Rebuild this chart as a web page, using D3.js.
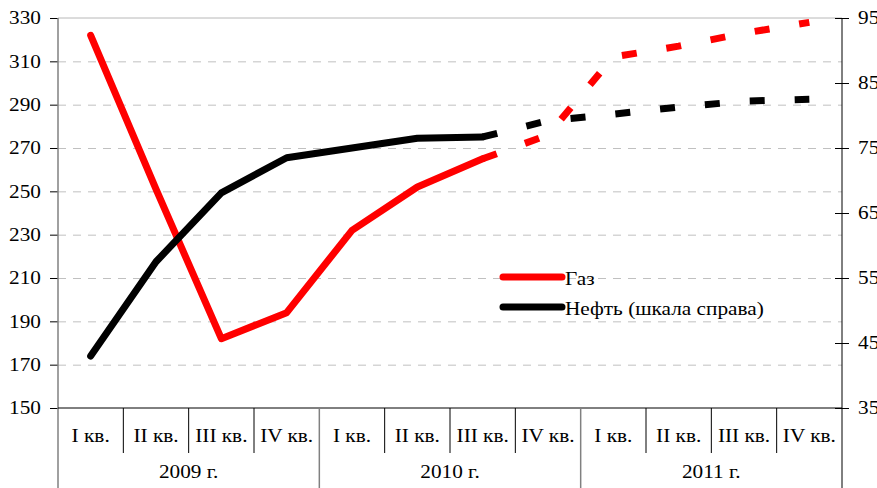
<!DOCTYPE html>
<html>
<head>
<meta charset="utf-8">
<script src="https://cdn.jsdelivr.net/npm/d3@7"></script>
<style>
    body { margin: 0; background: #fff; }
</style>
</head>
<body>
<div id="chart"></div>
<script>
// Quarter / year categories
var quarters = ["I кв.", "II кв.", "III кв.", "IV кв."];
var years = ["2009 г.", "2010 г.", "2011 г."];

// Gas (left scale) and oil (right scale), one value per quarter 2009-2011
var gas = [322, 251, 182, 194, 232, 252, 265, 276, 312, 317, 323, 328];
var oil = [43, 57.5, 68.1, 73.5, 75, 76.5, 76.7, 79.2, 80.2, 81.3, 82.2, 82.5];
var forecast_from = 6; // from 2010 III кв. on the lines are dashed

var left_ticks = [150, 170, 190, 210, 230, 250, 270, 290, 310, 330];
var right_ticks = [35, 45, 55, 65, 75, 85, 95];

var legend_names = ["Газ", "Нефть (шкала справа)"];

var font = '"Liberation Serif", "Times New Roman", serif';
var font_size = 18.5;
var stretch = 1.15; // text in the original is a bit wider than tall

var width = 877, height = 488;
var margin = {top: 18, right: 35, bottom: 80, left: 58};
var plot_w = width - margin.left - margin.right;
var plot_h = height - margin.top - margin.bottom;

var svg = d3.select("#chart")
    .append("svg")
    .attr("width", width)
    .attr("height", height);

var g = svg.append("g")
    .attr("transform", "translate(" + margin.left + "," + margin.top + ")");

// text with horizontal stretch
function label(parent, x, y, txt, anchor, dy) {
    return parent.append("text")
        .attr("transform", "translate(" + x + "," + y + ") scale(" + stretch + ",1)")
        .attr("text-anchor", anchor || "start")
        .attr("dy", dy || 0)
        .style("font-family", font)
        .style("font-size", font_size + "px")
        .style("fill", "#000")
        .text(txt);
}

var cats = [];
years.forEach(function(y) {
    quarters.forEach(function(q) { cats.push(y + "|" + q); });
});

var x = d3.scaleBand().domain(cats).range([0, plot_w]);
var yl = d3.scaleLinear().domain([150, 330]).range([plot_h, 0]);
var yr = d3.scaleLinear().domain([35, 95]).range([plot_h, 0]);

function cx(i) { return x(cats[i]) + x.bandwidth() / 2; }

// dashed grid
g.append("g")
    .call(d3.axisLeft(yl).tickValues(left_ticks.slice(1, -1)).tickSize(-plot_w).tickFormat(""))
    .call(function(s) {
        s.select(".domain").remove();
        s.selectAll("line").attr("stroke", "#c0c0c0").attr("stroke-dasharray", "8,7");
    });

// top border of plot area
g.append("line")
    .attr("x1", 0).attr("x2", plot_w)
    .attr("y1", yl(330)).attr("y2", yl(330))
    .attr("stroke", "#b8b8b8");

// left axis
g.append("g")
    .call(d3.axisLeft(yl).tickValues(left_ticks).tickSize(8).tickFormat(""))
    .call(function(s) {
        s.select(".domain").remove();
        s.selectAll("line").attr("stroke", "#000");
    });
left_ticks.forEach(function(v) {
    label(g, -17, yl(v), v, "end", "0.35em");
});

g.append("line")
    .attr("x1", 0).attr("x2", 0)
    .attr("y1", 0).attr("y2", height - margin.top)
    .attr("stroke", "#808080").attr("stroke-width", 1.5);

// right axis, ticks cross the line
g.append("g")
    .attr("transform", "translate(" + plot_w + ",0)")
    .call(d3.axisRight(yr).tickValues(right_ticks).tickSize(7).tickFormat(""))
    .call(function(s) {
        s.select(".domain").remove();
        s.selectAll("line").attr("x1", -7).attr("stroke", "#000");
    });
right_ticks.forEach(function(v) {
    label(g, plot_w + 16, yr(v), v, "start", "0.35em");
});

g.append("line")
    .attr("x1", plot_w).attr("x2", plot_w)
    .attr("y1", 0).attr("y2", height - margin.top)
    .attr("stroke", "#000");

// category axis: baseline, separators, labels
g.append("line")
    .attr("x1", 0).attr("x2", plot_w)
    .attr("y1", plot_h).attr("y2", plot_h)
    .attr("stroke", "#000");

cats.forEach(function(c, i) {
    if (i > 0) {
        var long = i % quarters.length == 0;
        g.append("line")
            .attr("x1", x(c)).attr("x2", x(c))
            .attr("y1", plot_h)
            .attr("y2", long ? height - margin.top : plot_h + 45)
            .attr("stroke", long ? "#808080" : "#000")
            .attr("stroke-width", long ? 1.5 : 1);
    }
    label(g, cx(i), plot_h + 34, c.split("|")[1], "middle");
});

years.forEach(function(y) {
    var first = x(y + "|" + quarters[0]);
    var last = x(y + "|" + quarters[quarters.length - 1]) + x.bandwidth();
    label(g, (first + last) / 2, plot_h + 70, y, "middle");
});

// lines
var series = [
    {values: gas, scale: yl, color: "#ff0000"},
    {values: oil, scale: yr, color: "#000000"}
];

series.forEach(function(s) {
    var pts = s.values.map(function(v, i) { return [cx(i), s.scale(v)]; });
    var line = d3.line();
    g.append("path")
        .attr("d", line(pts.slice(0, forecast_from + 1)))
        .attr("fill", "none")
        .attr("stroke", s.color)
        .attr("stroke-width", 7)
        .attr("stroke-linecap", "round")
        .attr("stroke-linejoin", "round");
    g.append("path")
        .attr("d", line(pts.slice(forecast_from)))
        .attr("fill", "none")
        .attr("stroke", s.color)
        .attr("stroke-width", 7)
        .attr("stroke-dasharray", "15,30");
});

// legend
var legend = svg.append("g").attr("transform", "translate(503,277)");
series.forEach(function(s, i) {
    legend.append("line")
        .attr("x1", 0).attr("x2", 59)
        .attr("y1", i * 30).attr("y2", i * 30)
        .attr("stroke", s.color)
        .attr("stroke-width", 7)
        .attr("stroke-linecap", "round");
    label(legend, 62, i * 30 + 8, legend_names[i], "start");
});
</script>
</body>
</html>
